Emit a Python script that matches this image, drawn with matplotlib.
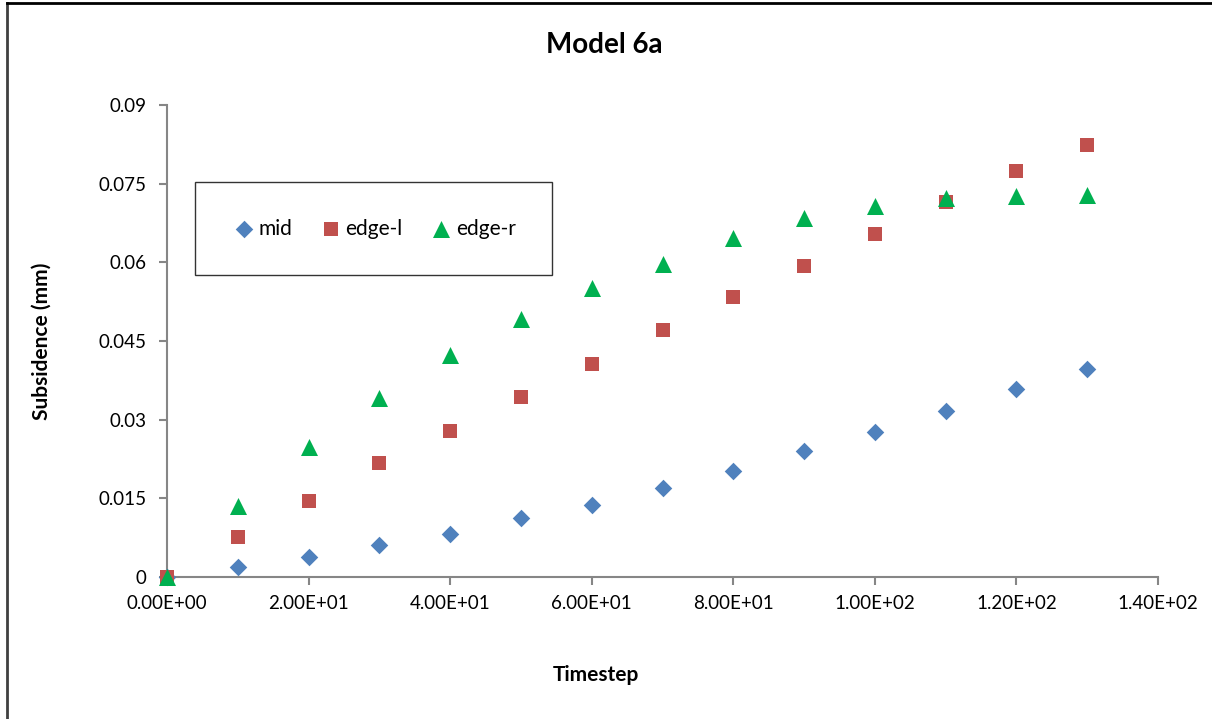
import matplotlib
matplotlib.use("Agg")
import matplotlib.pyplot as plt
from matplotlib.lines import Line2D
from matplotlib.ticker import FuncFormatter

timestep = [0, 10, 20, 30, 40, 50, 60, 70, 80, 90, 100, 110, 120, 130]
mid = [0.0, 0.0019, 0.0038, 0.0061, 0.0082, 0.0113, 0.0137, 0.0170, 0.0202,
       0.0240, 0.0277, 0.0317, 0.0359, 0.0397]
edge_l = [0.0, 0.0076, 0.0145, 0.0217, 0.0278, 0.0343, 0.0406, 0.0471, 0.0534,
          0.0593, 0.0654, 0.0715, 0.0774, 0.0824]
edge_r = [0.0, 0.0135, 0.0248, 0.0341, 0.0423, 0.0492, 0.0551, 0.0597, 0.0646,
          0.0685, 0.0707, 0.0723, 0.0727, 0.0728]
y_ticks = [0, 0.015, 0.03, 0.045, 0.06, 0.075, 0.09]
y_labels = ["0", "0.015", "0.03", "0.045", "0.06", "0.075", "0.09"]
x_ticks = [0, 20, 40, 60, 80, 100, 120, 140]

plt.rcParams['font.family'] = ['Lato', 'DejaVu Sans']

fig = plt.figure(figsize=(12.12, 7.19), dpi=100)
ax = fig.add_axes([167/1212, 1-577/719, 991/1212, 472/719])

ax.scatter(timestep, mid, marker='D', s=80, color='#4F81BD', label='mid', zorder=3,
           linewidths=0, clip_on=False)
ax.scatter(timestep, edge_l, marker='s', s=95, color='#C0504D', label='edge-l', zorder=3,
           linewidths=0, clip_on=False)
ax.scatter(timestep, edge_r, marker='^', s=150, color='#00B050', label='edge-r', zorder=4,
           linewidths=0, clip_on=False)

ax.set_xlim(0, 140)
ax.set_ylim(0, 0.09)
ax.set_xticks(x_ticks)
ax.xaxis.set_major_formatter(FuncFormatter(lambda v, p: "%.2E" % v))
ax.set_yticks(y_ticks)
ax.set_yticklabels(y_labels)

for s in ['top', 'right']:
    ax.spines[s].set_visible(False)
for s in ['left', 'bottom']:
    ax.spines[s].set_color('#868686')
    ax.spines[s].set_linewidth(1.5)
ax.tick_params(axis='both', direction='out', length=6, width=1.5, color='#868686',
               labelsize=13.5, labelcolor='black')
ax.tick_params(axis='x', pad=7)
ax.tick_params(axis='y', pad=9)

fig.text(604/1212, 1-45/719, "Model 6a", ha='center', va='center', fontsize=20, fontweight='bold')
fig.text(596/1212, 1-675/719, "Timestep", ha='center', va='center', fontsize=15, fontweight='bold')
fig.text(42/1212, 1-341/719, "Subsidence (mm)", ha='center', va='center', rotation=90,
         fontsize=15, fontweight='bold')

leg = ax.legend(loc='lower left', bbox_to_anchor=(28/991, (577-275)/472, (552-195)/991, 92/472),
                mode='expand', ncol=3, frameon=True, fancybox=False, fontsize=15,
                handletextpad=0.1, columnspacing=1.5, borderaxespad=0, borderpad=1.75,
                scatterpoints=1, handlelength=1.2)
leg.get_frame().set_edgecolor('black')
leg.get_frame().set_linewidth(1.0)

fig.add_artist(Line2D([7/1212, 7/1212], [0, 1-3/719], color='#404040', lw=2, transform=fig.transFigure))
fig.add_artist(Line2D([7/1212, 1], [1-3/719, 1-3/719], color='black', lw=2, transform=fig.transFigure))

fig.savefig("out.png", dpi=100)
